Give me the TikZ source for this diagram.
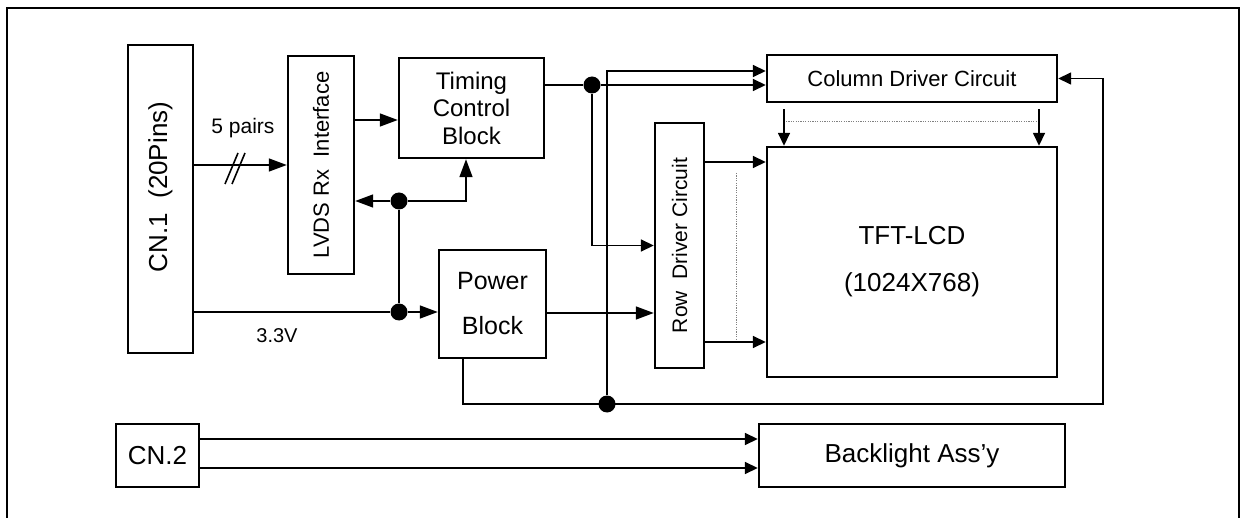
\documentclass[tikz,border=0pt]{standalone}
\usepackage{fontspec}
\setmainfont{Liberation Sans}
\usetikzlibrary{arrows.meta,calc}
\tikzset{
  blk/.style 2 args={draw, line width=1.2pt, align=center, inner sep=1pt,
                     minimum width=#1, minimum height=#2},
  arr/.style    ={-{Triangle[length=9pt,width=6.5pt]}, line width=0.8pt},
  sarr/.style   ={-{Triangle[length=6.5pt,width=6pt]}, line width=0.8pt},
  wire/.style   ={line width=0.8pt},
  jdot/.style   ={circle, fill, inner sep=0pt, minimum size=8.5pt},
  dotline/.style={line width=0.5pt, gray, dash pattern=on 0.6pt off 0.6pt},
  frame/.style  ={line width=0.8pt},
  lbl/.style    ={font=\fontsize{10.5}{12}\selectfont, inner sep=0pt},
}

\begin{document}
\begin{tikzpicture}[x=0.5pt,y=-0.5pt]
  \useasboundingbox (0,0) rectangle (1242,518);
  \draw[frame] (7,518) |- (1239,8) -- (1239,518);
  % blocks
  \node[blk={32.5pt}{154pt}, font=\fontsize{13}{15}\selectfont] (cn1) at (160.5,199)
    {\rotatebox{90}{\hspace{12pt}CN.1\ \ (20Pins)}};
  \node[blk={33pt}{109pt}, font=\fontsize{11}{13}\selectfont] (lvds) at (321,165)
    {\rotatebox{90}{LVDS Rx\ \ Interface}};
  \node[blk={72.5pt}{50pt}, font=\fontsize{12}{13.75}\selectfont] (tcon) at (471.5,108)
    {Timing\\Control\\Block};
  \node[blk={53.5pt}{54pt}, font=\fontsize{12.5}{22.5}\selectfont] (pwr) at (492.5,304)
    {Power\\Block};
  \node[blk={24.5pt}{122.5pt}, font=\fontsize{10.5}{12}\selectfont] (rowdrv) at (679.5,245.5)
    {\rotatebox{90}{Row\ \ Driver Circuit}};
  \node[blk={145pt}{23.5pt}, font=\fontsize{11}{13}\selectfont] (coldrv) at (912,78.5)
    {Column Driver Circuit};
  \node[blk={145pt}{115pt}, font=\fontsize{13}{23.5}\selectfont] (lcd) at (912,262)
    {TFT-LCD\\(1024X768)};
  \node[blk={41.5pt}{31.5pt}, font=\fontsize{13}{15}\selectfont] (cn2) at (157.5,455.5)
    {CN.2};
  \node[blk={153pt}{31.5pt}, font=\fontsize{13}{15}\selectfont] (blu) at (912,455.5)
    {Backlight Ass’y};
  % junctions
  \node[jdot] (j1) at (399,201) {};
  \node[jdot] (j2) at (399,312) {};
  \node[jdot] (j3) at (592,85) {};
  \node[jdot] (j4) at (607,404) {};
  \coordinate (busr) at (1103,404);
  % input side
  \draw[arr] (cn1.east |- lvds.west) -- (lvds.west);
  \draw[wire] (225,184) -- (238,153);
  \draw[wire] (232,184) -- (245,153);
  \node[lbl] (pairs) at (243,128) {5 pairs};
  \draw[arr] ([yshift=22.5pt]lvds.east) -- ([yshift=-6pt]tcon.west);
  \draw[arr] (j1) -- (j1 -| lvds.east);
  \draw[arr] (j1) -| ([xshift=-2.75pt]tcon.south);
  \draw[wire] (j1) -- (j2);
  \draw[wire] (cn1.east |- j2) -- (j2);
  \draw[arr] (j2) -- (j2 -| pwr.west);
  \node[lbl, font=\fontsize{10}{12}\selectfont] (volt) at (277,336) {3.3V};
  % timing and power outputs
  \draw[wire] (tcon.east |- j3) -- (j3);
  \draw[sarr] (j3) -- (j3 -| coldrv.west);
  \draw[sarr] (j3) |- (rowdrv.west);
  \draw[arr] ([yshift=-4.5pt]pwr.east) -- ([yshift=-33.75pt]rowdrv.west);
  \draw[sarr] ([xshift=-14.75pt]pwr.south) |- (busr) |- (coldrv.east);
  \draw[sarr] (j4) |- ([yshift=3.75pt]coldrv.west);
  % drivers to panel
  \draw[sarr] ([yshift=41.75pt]rowdrv.east) -- ([yshift=50pt]lcd.west);
  \draw[sarr] ([yshift=-48.25pt]rowdrv.east) -- ([yshift=-40pt]lcd.west);
  \draw[sarr] ([xshift=-64pt,yshift=-3pt]coldrv.south) -- ([xshift=-64pt]lcd.north);
  \draw[sarr] ([xshift=63.5pt,yshift=-3pt]coldrv.south) -- ([xshift=63.5pt]lcd.north);
  \draw[dotline] (786,122) -- (1037,122);
  \draw[dotline] (736,173) -- (736,340);
  % backlight
  \draw[sarr] ([yshift=8.25pt]cn2.east) -- ([yshift=8.25pt]blu.west);
  \draw[sarr] ([yshift=-6.25pt]cn2.east) -- ([yshift=-6.25pt]blu.west);
\end{tikzpicture}
\end{document}
